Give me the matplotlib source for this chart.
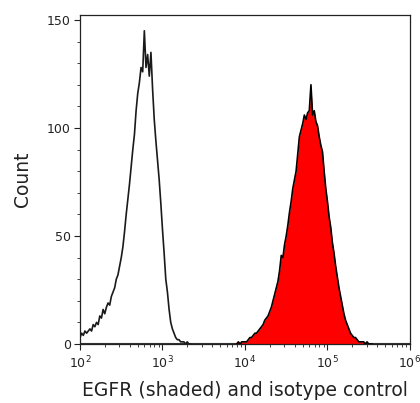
import matplotlib
matplotlib.use('Agg')
import matplotlib.pyplot as plt
import numpy as np
from matplotlib.ticker import LogLocator, MultipleLocator, NullFormatter

# histogram channels: log10 position of first bin + fixed log step
LOG_STEP = 0.02

# isotype control (open line), starts at 10^2.00
iso_start = 2.00
iso_counts = [3, 5, 4, 6, 5, 6, 7, 6, 9, 8,
              10, 9, 13, 12, 16, 14, 17, 19, 18, 22,
              24, 26, 30, 32, 36, 40, 45, 52, 60, 67,
              74, 82, 90, 97, 108, 116, 121, 128, 126, 145,
              128, 134, 124, 135, 118, 104, 94, 85, 76, 65,
              53, 42, 30, 24, 16, 10, 7, 5, 3, 2,
              2, 1, 1, 1, 0, 1, 0, 0]

# EGFR (shaded red), starts at 10^3.90
egfr_start = 3.90
egfr_counts = [0, 1, 0, 1, 1, 1, 1, 2, 3, 3,
               4, 5, 5, 6, 7, 8, 9, 11, 12, 13,
               15, 17, 20, 23, 26, 29, 34, 41, 40, 46,
               50, 55, 61, 66, 72, 76, 80, 88, 96, 99,
               102, 106, 104, 107, 108, 120, 106, 108, 103, 101,
               96, 92, 89, 80, 72, 66, 59, 54, 47, 42,
               36, 31, 26, 22, 18, 14, 11, 9, 7, 5,
               4, 3, 3, 2, 1, 1, 1, 1, 0, 1,
               0, 0, 0]


def channel_x(start, counts):
    return 10 ** (start + LOG_STEP * np.arange(len(counts)))


fig = plt.figure(figsize=(4.2, 4.03), dpi=100)
ax = fig.add_axes([0.1905, 0.1464, 0.7855, 0.8164])

ex = channel_x(egfr_start, egfr_counts)
ey = np.array(egfr_counts, dtype=float)
ax.fill_between(ex, ey, 0, color='#ff0000', linewidth=0, zorder=2)
ax.plot(ex, ey, color='black', lw=1.2, zorder=3)

ix = channel_x(iso_start, iso_counts)
ax.plot(ix, iso_counts, color='#1a1a1a', lw=1.2, zorder=4)

# baselines running along the axis
ax.plot([1e2, 1e6], [0.3, 0.3], color='#333333', lw=0.8, zorder=1)

ax.set_xscale('log')
ax.set_xlim(1e2, 1e6)
ax.set_ylim(0, 152.3)

ax.yaxis.set_major_locator(MultipleLocator(50))
ax.yaxis.set_minor_locator(MultipleLocator(10))
ax.xaxis.set_major_locator(LogLocator(base=10, numticks=10))
ax.xaxis.set_minor_locator(LogLocator(base=10, subs=np.arange(2, 10), numticks=10))
ax.xaxis.set_minor_formatter(NullFormatter())

ax.tick_params(axis='both', which='major', direction='out', length=4.5,
               width=0.8, labelsize=9, colors='#222222', pad=2)
ax.tick_params(axis='both', which='minor', direction='out', length=2.5,
               width=0.6, colors='#222222')
ax.tick_params(axis='x', which='major', pad=3)

for s in ax.spines.values():
    s.set_linewidth(0.9)
    s.set_color('#222222')

ax.set_ylabel('Count', fontsize=13.5, labelpad=11, color='#222222')
ax.set_xlabel('EGFR (shaded) and isotype control', fontsize=13.5,
              labelpad=7, color='#222222')

fig.savefig('out.png', dpi=100)
